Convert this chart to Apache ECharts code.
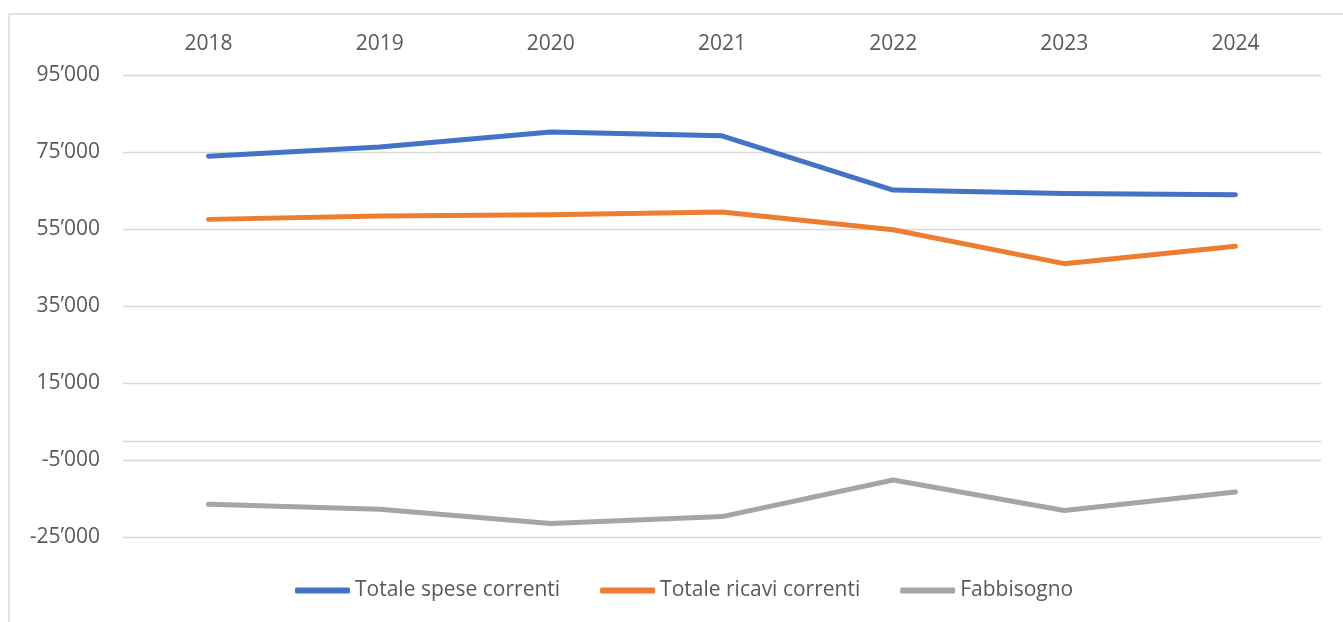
<!DOCTYPE html>
<html>
<head>
<meta charset="utf-8">
<script src="https://cdn.jsdelivr.net/npm/echarts@6/dist/echarts.min.js"></script>
<style>
  html, body { margin: 0; padding: 0; background: #fff; }
  #chart { width: 1343px; height: 622px; }
</style>
</head>
<body>
<div id="chart"></div>
<script>
const categories = ['2018', '2019', '2020', '2021', '2022', '2023', '2024'];
const speseCorrenti = [73900, 76300, 80200, 79200, 65100, 64200, 63900];
const ricaviCorrenti = [57500, 58400, 58700, 59400, 54800, 46000, 50500];
const fabbisogno = [-16500, -17800, -21500, -19700, -10200, -18100, -13300];
const seriesNames = ['Totale spese correnti', 'Totale ricavi correnti', 'Fabbisogno'];

const FONT = '"Open Sans", sans-serif';
const TEXT = '#595959';
const GRID = '#d9d9d9';

function fmt(v) {
  const s = String(Math.abs(Math.round(v))).replace(/\B(?=(\d{3})+(?!\d))/g, '\u2019');
  return (v < 0 ? '-' : '') + s;
}

const chart = echarts.init(document.getElementById('chart'), null, { renderer: 'canvas' });

function lineSeries(name, data, color, extra) {
  return Object.assign({
    name: name,
    type: 'line',
    data: data,
    symbol: 'none',
    showSymbol: false,
    smooth: false,
    color: color,
    lineStyle: { color: color, width: 5, cap: 'round', join: 'round' },
    itemStyle: { color: color },
    animation: false
  }, extra || {});
}

chart.setOption({
  animation: false,
  backgroundColor: '#fff',
  textStyle: { fontFamily: FONT },
  graphic: [{
    type: 'rect',
    shape: { x: 9, y: 14, width: 1345, height: 620 },
    style: { fill: 'none', stroke: GRID, lineWidth: 1.3 },
    silent: true,
    z: -10
  }],
  grid: { left: 123, right: 22, top: 75, bottom: 85, containLabel: false },
  legend: {
    data: seriesNames,
    left: 290,
    top: 575,
    itemWidth: 55,
    itemHeight: 6,
    itemGap: 40,
    textStyle: { color: TEXT, fontSize: 21, fontFamily: FONT },
    icon: 'roundRect'
  },
  xAxis: {
    type: 'category',
    data: categories,
    position: 'top',
    boundaryGap: true,
    axisLine: { show: false },
    axisTick: { show: false },
    splitLine: { show: false },
    axisLabel: { color: TEXT, fontSize: 21, fontFamily: FONT, margin: 20 }
  },
  yAxis: {
    type: 'value',
    min: -25000,
    max: 95000,
    interval: 20000,
    axisLine: { show: false },
    axisTick: { show: false },
    splitLine: { show: true, lineStyle: { color: GRID, width: 1.3 } },
    axisLabel: { color: TEXT, fontSize: 21, fontFamily: FONT, margin: 23, formatter: fmt }
  },
  series: [
    lineSeries(seriesNames[0], speseCorrenti, '#4472C4', {
      markLine: {
        silent: true,
        symbol: ['none', 'none'],
        label: { show: false },
        lineStyle: { color: GRID, width: 1.3, type: 'solid' },
        data: [{ yAxis: 0 }],
        z: 1
      }
    }),
    lineSeries(seriesNames[1], ricaviCorrenti, '#ED7D31'),
    lineSeries(seriesNames[2], fabbisogno, '#A5A5A5')
  ]
});
</script>
</body>
</html>
